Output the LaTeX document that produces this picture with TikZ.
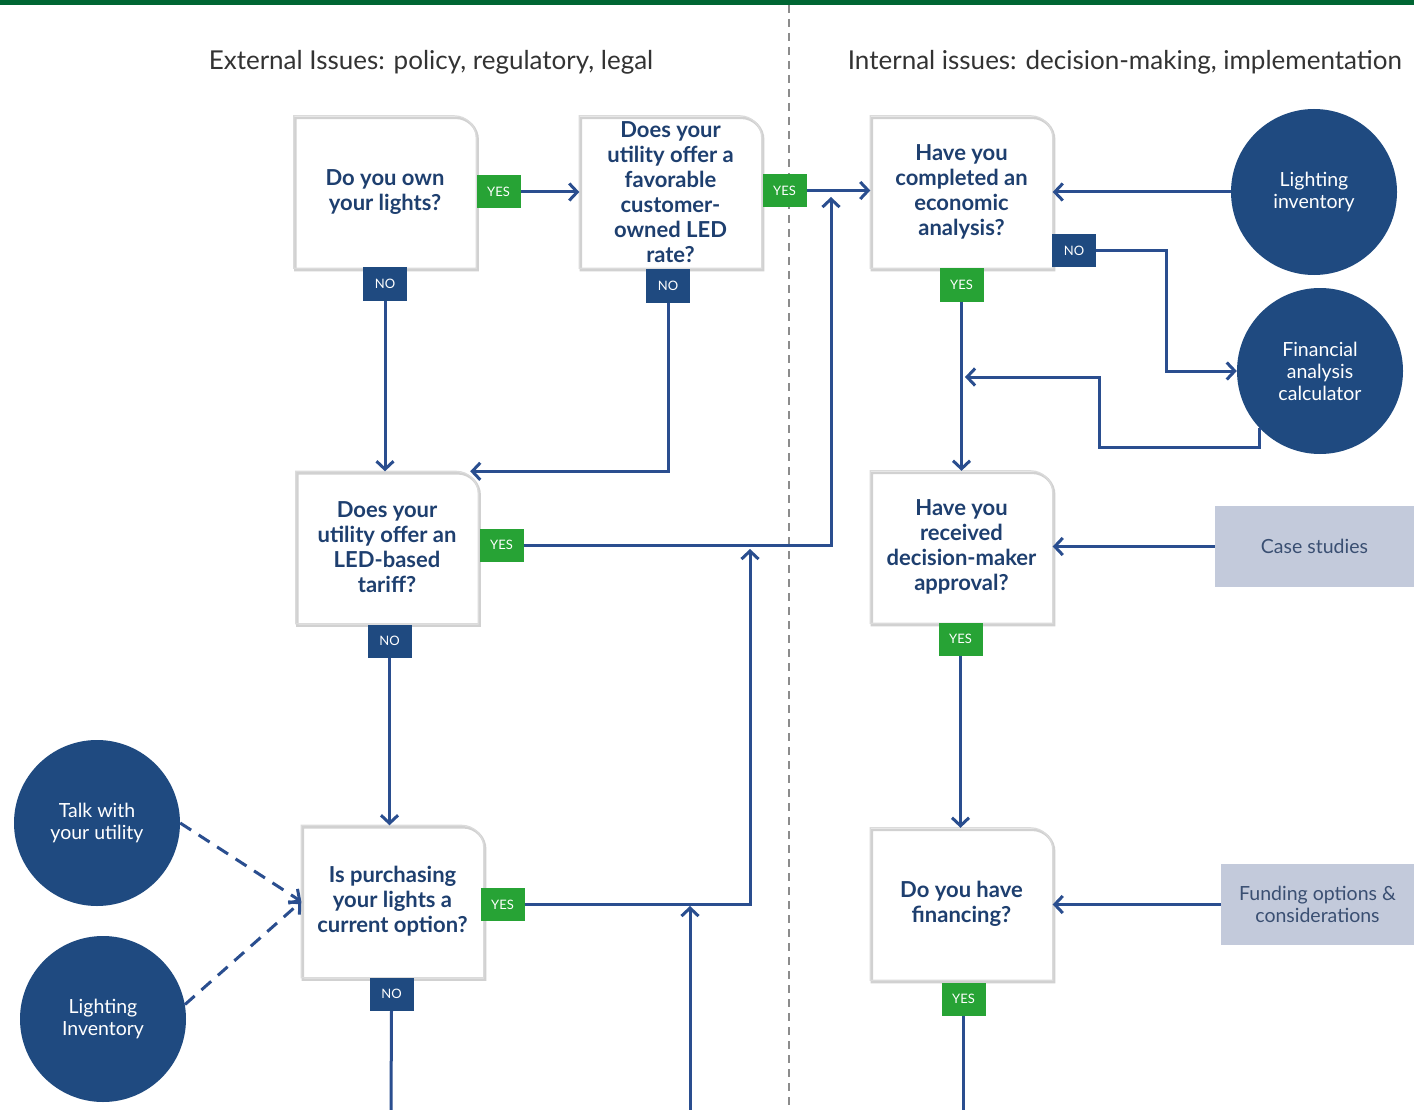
\documentclass[tikz,border=0pt]{standalone}
\usepackage{fontspec}
\setmainfont{Lato}
\usepackage{tikz}
\usetikzlibrary{arrows.meta,backgrounds,calc,positioning}

\definecolor{navy}{HTML}{1F4A80}
\definecolor{linenavy}{HTML}{2A4E8F}
\definecolor{yesgreen}{HTML}{27A335}
\definecolor{topgreen}{HTML}{006633}
\definecolor{textnavy}{HTML}{1E3F6F}
\definecolor{resfill}{HTML}{C3CADB}
\definecolor{restext}{HTML}{3A4F72}

\tikzset{
  question/.style={minimum width=182, minimum height=152, inner sep=0, align=center,
    text=textnavy, font=\fontsize{22}{25}\selectfont\bfseries},
  tagbox/.style={minimum width=44, minimum height=33, inner sep=0, text=white,
    font=\fontsize{13}{13}\selectfont},
  yes/.style={tagbox, fill=yesgreen},
  no/.style={tagbox, fill=navy},
  tool/.style={circle, fill=navy, minimum size=166, inner sep=0, align=center,
    text=white, font=\fontsize{19.5}{22}\selectfont},
  material/.style={fill=resfill, minimum height=81, inner sep=0, align=center,
    text=restext, font=\fontsize{19.5}{22}\selectfont},
  link/.style={draw=linenavy, line width=3, -{Straight Barb[length=8pt,width=17pt]}},
  hint/.style={link, dash pattern=on 13pt off 9pt},
  heading/.style={font=\fontsize{26}{26}\selectfont, text=black!80},
}

% frame with one rounded corner (top right) and a soft shadow
\newcommand{\qframe}[1]{%
  \draw[black!18, line width=2.5]
    ([shift={(1.5,2)}]#1.south west) -- ([shift={(1.5,2)}]#1.north west)
    -- ([shift={(-20.5,2)}]#1.north east) arc[start angle=270, end angle=360, radius=22]
    -- ([shift={(1.5,2)}]#1.south east) -- cycle;
  \draw[black!14, line width=1.2]
    (#1.south west) -- (#1.north west) -- ([xshift=-22]#1.north east)
    arc[start angle=270, end angle=360, radius=22] -- (#1.south east) -- cycle;}

\begin{document}
\begin{tikzpicture}[x=1pt, y=-1pt]
\useasboundingbox (0,0) rectangle (1414,1110);
\fill[white] (0,0) rectangle (1414,1110);
\fill[topgreen] (0,0) rectangle (1414,5);
\draw[black!45, line width=1.5, dash pattern=on 8pt off 6pt] (789,5) -- (789,1110);

\node[heading] at (431,62) {External Issues: policy, regulatory, legal};
\node[heading] at (1125,62) {Internal issues: decision-making, implementation};

% questions
\node[question] (own) at (385,192) {Do you own\\your lights?};
\node[question] (rate) at (670.5,192) {Does your\\utility offer a\\favorable\\customer-\\owned LED\\rate?};
\node[question] (tariff) at (387,547.5) {Does your\\utility offer an\\LED-based\\tariff?};
\node[question] (buy) at (392.5,901.5) {Is purchasing\\your lights a\\current option?};
\node[question] (econ) at (961.5,192) {Have you\\completed an\\economic\\analysis?};
\node[question] (approval) at (961.5,547) {Have you\\received\\decision-maker\\approval?};
\node[question] (financing) at (961.5,904) {Do you have\\financing?};
\foreach \q in {own,rate,tariff,buy,econ,approval,financing} {\qframe{\q}}

% yes / no tags
\node[yes] (yOwn) at (498.5,192) {YES};
\node[no] (nOwn) at (385,284) {NO};
\node[yes] (yRate) at (784.5,190.5) {YES};
\node[no] (nRate) at (668,286) {NO};
\node[yes] (yTariff) at (501.5,545) {YES};
\node[no] (nTariff) at (389.5,641) {NO};
\node[yes] (yBuy) at (502.5,904.5) {YES};
\node[no] (nBuy) at (391.5,994) {NO};
\node[no] (nEcon) at (1074,250.5) {NO};
\node[yes] (yEcon) at (961.5,285) {YES};
\node[yes] (yAppr) at (960.5,639) {YES};
\node[yes] (yFin) at (963.5,999) {YES};

% resources
\node[tool] (invR) at (1314,192) {Lighting\\inventory};
\node[tool] (calcR) at (1320,371) {Financial\\analysis\\calculator};
\node[tool] (talk) at (97,823) {Talk with\\your utility};
\node[tool] (invL) at (103,1019) {Lighting\\Inventory};
\node[material, minimum width=199] (cases) at (1314.5,546.5) {Case studies};
\node[material, minimum width=193] (funding) at (1317.5,904.5) {Funding options \&\\considerations};

% free ends
\coordinate (joinA) at (831,197);
\coordinate (joinB) at (750,549);
\coordinate (joinC) at (690,906);
\coordinate (fromBelow) at (690,1110);
\coordinate (endA) at (391,1110);
\coordinate (endB) at (963.5,1110);
\coordinate (loopIn) at (965,377);

% connectors
\draw[link] (yOwn.east) -- (yOwn.east -| rate.west);
\draw[link] (nOwn.south) -- (nOwn.south |- tariff.north);
\draw[link] (nRate.south) |- ([xshift=-8]tariff.north east);
\draw[link] (yRate.east) -- (yRate.east -| econ.west);
\draw[link] (yTariff.east) -| (joinA);
\draw[link] (nTariff.south) -- (nTariff.south |- buy.north);
\draw[link] (yBuy.east) -| (joinB);
\draw[link] (fromBelow) -- (joinC);
\draw[draw=linenavy, line width=3] (nBuy.south) -- (endA);
\draw[link] (invR.west) -- (invR.west -| econ.east);
\draw[link] (nEcon.east) -- ++(70,0) |- (calcR.west);
\draw[link] (calcR.223) |- ++(-160,20) |- (loopIn);
\draw[link] (yEcon.south) -- (yEcon.south |- approval.north);
\draw[link] (cases.west) -- (cases.west -| approval.east);
\draw[link] (yAppr.south) -- (yAppr.south |- financing.north);
\draw[link] (funding.west) -- (funding.west -| financing.east);
\draw[draw=linenavy, line width=3] (yFin.south) -- (endB);
\draw[hint] (talk.east) -- (buy.west);
\draw[hint] (invL.10) -- (buy.west);
\end{tikzpicture}
\end{document}
